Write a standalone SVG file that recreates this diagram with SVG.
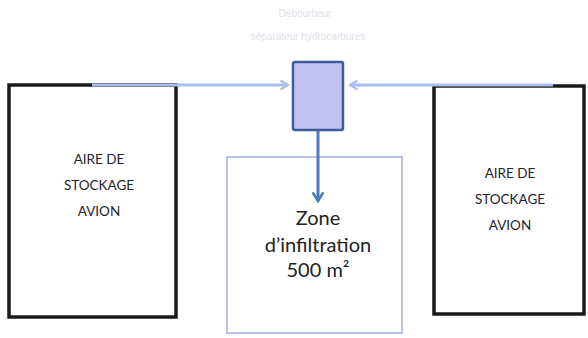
<svg xmlns="http://www.w3.org/2000/svg" width="588" height="338" viewBox="0 0 588 338">
<style>
.area{fill:#fff;stroke:#1a1a1a;stroke-width:3.5}
.lbl{font-family:Lato,"Open Sans",sans-serif;font-size:13.5px;fill:#23232e;text-anchor:middle}
.zl{font-family:Lato,"Open Sans",sans-serif;font-size:20px;fill:#222;text-anchor:middle}
.faint{font-family:"Liberation Sans",sans-serif;font-size:10px;fill:#e0e0e8;text-anchor:middle}
.flow{stroke:#a9c0ee;stroke-width:3;fill:none}
</style>
<defs>
<marker id="ah" viewBox="0 0 10 10" refX="8" refY="5" markerWidth="3.8" markerHeight="3.8" orient="auto" markerUnits="strokeWidth">
<path d="M1.5,1 L8,5 L1.5,9" fill="none" stroke="#a9c0ee" stroke-width="2"/>
</marker>
<marker id="ahd" viewBox="0 0 10 10" refX="8" refY="5" markerWidth="4.4" markerHeight="4.4" orient="auto" markerUnits="strokeWidth">
<path d="M1.5,1 L8,5 L1.5,9" fill="none" stroke="#4a7ab8" stroke-width="2"/>
</marker>
</defs>
<g id="aire-gauche">
<rect class="area" x="9" y="85" width="167" height="232"/>
<text class="lbl" x="99" y="164">AIRE DE</text>
<text class="lbl" x="99" y="190">STOCKAGE</text>
<text class="lbl" x="99" y="216">AVION</text>
</g>
<g id="aire-droite">
<rect class="area" x="434" y="86" width="150" height="228"/>
<text class="lbl" x="510" y="178">AIRE DE</text>
<text class="lbl" x="510" y="204">STOCKAGE</text>
<text class="lbl" x="510" y="230">AVION</text>
</g>
<g id="zone-infiltration">
<rect x="227" y="157" width="175" height="176" fill="#fff" stroke="#aab4e6" stroke-width="1.6"/>
<text class="zl" x="318" y="225">Zone</text>
<text class="zl" x="318" y="252">d’infiltration</text>
<text class="zl" x="318" y="277">500 m²</text>
</g>
<g id="connecteurs">
<line class="flow" x1="92" y1="85" x2="288" y2="85" marker-end="url(#ah)"/>
<line class="flow" x1="553" y1="85" x2="350" y2="85" marker-end="url(#ah)"/>
<line x1="318" y1="131" x2="318" y2="201" stroke="#4a7ab8" stroke-width="3" marker-end="url(#ahd)"/>
</g>
<g id="separateur">
<rect x="293" y="62" width="50" height="68" rx="2" fill="#c2c2f2" stroke="#3d5c9a" stroke-width="2.5"/>
</g>
<g id="legende">
<text class="faint" x="305" y="17">Débourbeur</text>
<text class="faint" x="308" y="40">séparateur hydrocarbures</text>
</g>
</svg>
